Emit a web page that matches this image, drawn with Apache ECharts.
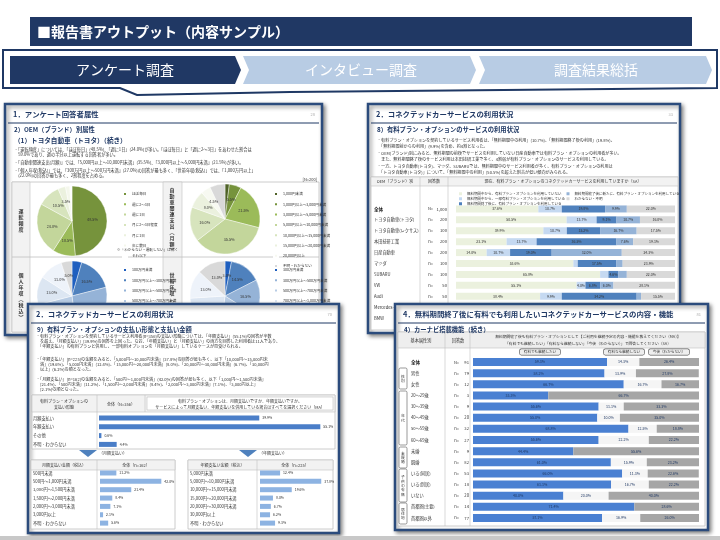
<!DOCTYPE html>
<html>
<head>
<meta charset="utf-8">
<script src="https://cdn.jsdelivr.net/npm/echarts@6/dist/echarts.min.js"></script>
<style>
html, body { margin: 0; padding: 0; background: #fff; }
#main { width: 720px; height: 540px; }
</style>
</head>
<body>
<div id="main"></div>
<script>
const FONT = '"Noto Sans CJK JP", "Noto Sans", sans-serif';

// 1. 回答者属性（円グラフ）
const freqNames = ['ほぼ毎日', '週に2～3日', '週に1日', '月に2～3日程度', '月に1日', '年に数日', 'それ以下'];
const freqValues = [48.5, 10.5, 24.0, 10.5, 3.5, 2.0, 1.0];
const spendNames = ['1,000円未満', '1,000円以上～3,000円未満', '3,000円以上～5,000円未満', '5,000円以上～10,000円未満', '10,000円以上～15,000円未満', '15,000円以上～20,000円未満', '20,000円以上', '不明・わからない'];
const spendValues = [2.0, 5.5, 21.5, 35.5, 16.0, 8.0, 4.5, 7.0];
const incomeNames = ['100万円未満', '100万円以上～300万円未満', '300万円以上～500万円未満', '500万円以上～700万円未満', '700万円以上～1,000万円未満', '1,000万円以上', '答えたくない'];
const incomeValues = [4.5, 16.5, 27.0, 23.0, 13.0, 11.0, 5.0];
const householdNames = ['300万円未満', '300万円以上～500万円未満', '500万円以上～700万円未満', '700万円以上～1,000万円未満', '1,000万円以上～1,500万円未満', '1,500万円以上', '不明・答えたくない'];
const householdValues = [3.0, 14.5, 16.5, 18.0, 22.0, 13.0, 13.0];

// 2. 有料プラン・オプションのサービス利用状況（OEM別）
const oemNames = ['全体', 'トヨタ自動車(トヨタ)', 'トヨタ自動車(レクサス)', '本田技研工業', '日産自動車', 'マツダ', 'SUBARU', 'VW', 'Audi', 'Mercedes-Benz', 'BMW'];
const oemN = ['1,000', '200', '100', '200', '200', '100', '100', '50', '50', '50', '50'];
const oemNoUse = [37.6, 50.5, 39.9, 23.1, 14.0, 53.6, 65.8, 55.1, 38.4, 40.0, 45.0];
const oemPartUse = [10.7, 13.7, 10.7, 13.7, 10.7, 2.0, 3.8, 4.0, 9.9, 10.0, 8.0];
const oemPaidAfter = [19.8, 9.1, 15.2, 36.5, 19.0, 17.5, 4.6, 6.8, 34.2, 20.0, 18.0];
const oemNewPaid = [9.9, 10.7, 16.7, 7.6, 32.0, 3.0, 3.8, 6.0, 2.0, 10.0, 9.0];
const oemUnknown = [22.0, 16.0, 17.5, 19.1, 24.3, 23.9, 22.0, 28.1, 15.5, 20.0, 20.0];

// 9) 支払い形態と支払い金額
const payTypes = ['月額支払い', '年額支払い', 'その他', '不明・わからない'];
const payShares = [39.9, 55.1, 0.6, 4.4];
const monthlyBands = ['500円未満', '500円～1,000円未満', '1,000円～1,500円未満', '1,500円～2,000円未満', '2,000円～3,000円未満', '3,000円以上', '不明・わからない'];
const monthlyShares = [11.2, 42.0, 21.4, 8.4, 7.1, 2.1, 5.6];
const yearlyBands = ['5,000円未満', '5,000円～10,000円未満', '10,000円～15,000円未満', '15,000円～20,000円未満', '20,000円～30,000円未満', '30,000円以上', '不明・わからない'];
const yearlyShares = [12.4, 37.8, 19.6, 8.0, 6.7, 6.2, 9.3];

// 4) カーナビ搭載機能（属性別）
const attrLabels = ['全体', '男性', '女性', '20～29歳', '30～39歳', '40～49歳', '50～59歳', '60～69歳', '未婚', '既婚', 'いる(同居)', 'いる(別居)', 'いない', '首都圏(主要)', '首都圏以外'];
const attrN = [91, 79, 12, 3, 9, 20, 32, 27, 9, 82, 53, 18, 20, 14, 77];
const keepPaid = [59.3, 58.2, 66.7, 33.3, 55.6, 55.0, 68.8, 55.6, 44.4, 61.0, 66.0, 61.1, 40.0, 71.4, 57.1];
const stopPaid = [14.3, 13.9, 16.7, 0, 11.1, 10.0, 12.5, 22.2, 0, 15.9, 11.3, 16.7, 20.0, 0, 16.9];
const undecided = [26.4, 27.8, 16.7, 66.7, 33.3, 35.0, 18.8, 22.2, 55.6, 23.2, 22.6, 22.2, 40.0, 28.6, 26.0];

const greens = ['#76933c', '#9bbb59', '#c3d69b', '#d7e4bd', '#ebf1de', '#f4f7ec', '#ffffff'];
const greens2 = ['#4f6228', '#76933c', '#9bbb59', '#c3d69b', '#d7e4bd', '#ebf1de', '#f7f9f1', '#d9d9d9'];
const blues = ['#1f5fbf', '#4f81bd', '#95b3d7', '#b8cce4', '#dce6f2', '#eef3fa', '#d9d9d9'];

// ---- 図形・テキスト ----
const G = [];
function rect(x, y, w, h, z, style, r) {
  return { type: 'rect', z: z, shape: { x: x, y: y, width: w, height: h, r: r || 0 }, style: style };
}
function line(x1, y1, x2, y2, z, color, lw) {
  return { type: 'line', z: z, shape: { x1: x1, y1: y1, x2: x2, y2: y2 }, style: { stroke: color, lineWidth: lw || 0.6 } };
}
function text(x, y, s, size, z, o) {
  o = o || {};
  const st = {
    text: s, fill: o.color || '#333', fontSize: size, fontFamily: FONT,
    fontWeight: o.bold ? 'bold' : 'normal', align: o.align || 'left', verticalAlign: 'middle'
  };
  if (o.lh) st.lineHeight = o.lh;
  if (o.box) Object.assign(st, o.box);
  return { type: 'text', z: z, x: x, y: y, style: st };
}
function panel(x, y, w, h, z, title, sub, page) {
  G.push(rect(x, y, w, h, z, { fill: '#fff', stroke: '#2b4b7c', lineWidth: 2.5, shadowBlur: 4, shadowOffsetX: 2, shadowOffsetY: 2, shadowColor: 'rgba(0,0,0,0.45)' }));
  G.push(line(x + 3, y + 19, x + w - 3, y + 19, z + 1, '#1f3864', 1));
  G.push(text(x + 8, y + 10, title, 7.4, z + 2, { color: '#1f3864', bold: true }));
  G.push(text(x + w - 7, y + 10, page, 4, z + 2, { color: '#aaa', align: 'right' }));
  G.push(text(x + 9, y + 26, sub, 6.3, z + 2, { color: '#1f3864', bold: true }));
}
function bullets(x, lines, z, size) {
  lines.forEach(function (l) { G.push(text(x, l[0], l[1], size || 4.2, z)); });
}

// 上部見出し
G.push({ type: 'polygon', z: 1, shape: { points: [[3, 50], [717, 50], [717, 88], [290, 92], [137, 95], [120, 88], [3, 88]] }, style: { fill: '#fff', stroke: '#1f3864', lineWidth: 2 } });
G.push(rect(30, 17, 662, 29, 2, { fill: '#203864' }));
G.push(text(37, 32, '■報告書アウトプット（内容サンプル）', 14, 3, { color: '#fff', bold: true }));
G.push({ type: 'polygon', z: 2, shape: { points: [[10, 56], [235, 56], [241, 70], [235, 84], [10, 84]] }, style: { fill: '#203864' } });
G.push({ type: 'polygon', z: 2, shape: { points: [[243, 56], [470, 56], [476, 70], [470, 84], [243, 84], [249, 70]] }, style: { fill: '#b8cce4' } });
G.push({ type: 'polygon', z: 2, shape: { points: [[479, 56], [706, 56], [712, 70], [706, 84], [479, 84], [485, 70]] }, style: { fill: '#b8cce4' } });
G.push(text(125, 70, 'アンケート調査', 14, 3, { color: '#fff', align: 'center' }));
G.push(text(361, 70, 'インタビュー調査', 14, 3, { color: '#fff', align: 'center' }));
G.push(text(596, 70, '調査結果総括', 14, 3, { color: '#fff', align: 'center' }));
G.push(rect(0, 536, 720, 4, 30, { fill: '#c8c8c8' }));

// パネル1：回答者属性
panel(5, 104, 317, 231, 1, '1．アンケート回答者属性', '2）OEM（ブランド）別属性', '28');
G.push(text(14, 140, '（1）トヨタ自動車（トヨタ）（続き）', 6.6, 3, { color: '#1f3864', bold: true }));
bullets(14, [
  [149, '・「運転頻度」については、「ほぼ毎日」(48.5%)、「週に1日」(24.0%)が多い。「ほぼ毎日」と「週に2～3日」をあわせた割合は'],
  [154, '　59.0%であり、週の半分以上運転する回答者が多い。'],
  [162, '・「自動車関連支出(月額)」では、「5,000円以上～10,000円未満」(35.5%)、「3,000円以上～5,000円未満」(21.5%)が多い。'],
  [170, '・「個人年収(税込)」では、「300万円以上～500万円未満」(27.0%)の回答が最も多く、「世帯年収(税込)」では、「1,000万円以上」'],
  [175, '　(22.0%)の回答が最も多く、2割程度を占める。']
], 3, 4.2);
G.push(text(317, 179, '[N=200]', 4, 3, { align: 'right' }));
G.push(rect(12, 182, 307, 150, 2, { fill: '#fff', stroke: '#bfbfbf', lineWidth: 0.8 }));
G.push(rect(12, 182, 18, 150, 2, { fill: '#f2f2f2', stroke: '#bfbfbf', lineWidth: 0.6 }));
G.push(rect(163, 182, 19, 150, 2, { fill: '#f2f2f2', stroke: '#bfbfbf', lineWidth: 0.6 }));
G.push(line(12, 257, 319, 257, 2, '#bfbfbf', 0.8));
G.push(text(21, 220, '運\n転\n頻\n度', 5, 3, { bold: true, align: 'center', lh: 6 }));
G.push(text(172, 220, '自\n動\n車\n関\n連\n支\n出\n︵\n月\n額\n︶', 5, 3, { bold: true, align: 'center', lh: 6 }));
G.push(text(21, 296, '個\n人\n年\n収\n︵\n税\n込\n︶', 5, 3, { bold: true, align: 'center', lh: 6 }));
G.push(text(172, 296, '世\n帯\n年\n収\n︵\n税\n込\n︶', 5, 3, { bold: true, align: 'center', lh: 6 }));
G.push(text(117, 250, '※「わからない・運転しない」は除く', 3.6, 3));

// パネル2：有料プラン利用状況
panel(368, 104, 312, 229, 1, '2．コネクテッドカーサービスの利用状況', '8）有料プラン・オプションのサービスの利用状況', '33');
bullets(377, [
  [140, '・有料プラン・オプションを契約しているサービス利用者は、「無料期間中の利用」(10.7%)、「無料期間終了後の利用」(19.8%)、'],
  [146, '　「無料期間前からの利用」(9.9%)を含め、約4割となった。'],
  [153, '・OEM(ブランド)別にみると、無料期間の前後でサービスを利用していない日産自動車では有料プラン・オプションの利用者が多い。'],
  [159, '　また、無料期間終了後のサービス利用は本田技研工業で多く、4割弱が有料プラン・オプションのサービスを利用している。'],
  [166, '・一方、トヨタ自動車(トヨタ)、マツダ、SUBARUでは、無料期間中のサービス利用者が多く、有料プラン・オプションの利用は'],
  [172, '　「トヨタ自動車(トヨタ)」について、「無料期間中の利用」(50.5%)を超えた割合が低い傾向がみられる。']
], 3, 4.1);
G.push(rect(371, 177, 307, 153, 2, { fill: '#fff', stroke: '#bfbfbf', lineWidth: 0.8 }));
G.push(rect(371, 177, 307, 9, 2, { fill: '#f2f2f2', stroke: '#bfbfbf', lineWidth: 0.6 }));
G.push(line(420, 177, 420, 330, 2, '#bfbfbf', 0.6));
G.push(line(448, 177, 448, 330, 2, '#bfbfbf', 0.6));
G.push(text(395, 181.5, 'OEM（ブランド）別', 4, 3, { align: 'center' }));
G.push(text(434, 181.5, '回答数', 4, 3, { align: 'center' }));
G.push(text(563, 181.5, '現在、有料プラン・オプションのコネクテッドカーサービスを利用していますか（SA）', 4, 3, { align: 'center' }));

// パネル3：支払い形態と金額
panel(28, 304, 311, 229, 20, '2．コネクテッドカーサービスの利用状況', '9）有料プラン・オプションの支払い形態と支払い金額', '70');
bullets(36, [
  [336, '・有料プラン・オプションを契約しているサービス利用者(n=356)の支払い形態については、「年額支払い」(55.1%)の回答が半数'],
  [341, '　を超え、「月額支払い」(39.9%)の回答を上回った。なお、「年額支払い」と「月額支払い」の両方を回答した利用者は11人であり、'],
  [346, '　「年額支払い」の有料プランと併用し、一部有料オプションを「月額支払い」しているケースが見受けられる。'],
  [359, '・「年額支払い」(n=225)の金額をみると、「5,000円～10,000円未満」(37.8%)の回答が最も多く、以下「10,000円～15,000円未'],
  [364, '　満」(19.6%)、「5,000円未満」(12.4%)、「15,000円～20,000円未満」(8.0%)、「20,000円～30,000円未満」(6.7%)、「30,000円'],
  [369, '　以上」(6.2%)の順となった。'],
  [379, '・「月額支払い」(n=162)の金額をみると、「500円～1,000円未満」(42.0%)の回答が最も多く、以下「1,000円～1,500円未満」'],
  [384, '　(21.4%)、「500円未満」(11.2%)、「1,500円～2,000円未満」(8.4%)、「2,000円～3,000円未満」(7.1%)、「3,000円以上」'],
  [389, '　(2.1%)の順となった。']
], 22, 4.1);
G.push(rect(32, 395, 303, 54, 21, { fill: '#fff', stroke: '#bfbfbf', lineWidth: 0.8 }));
G.push(rect(32, 395, 303, 17, 21, { fill: '#f2f2f2', stroke: '#bfbfbf', lineWidth: 0.6 }));
G.push(rect(147, 397, 186, 13, 21, { fill: '#fff', stroke: '#bfbfbf', lineWidth: 0.6 }));
G.push(line(97, 395, 97, 449, 21, '#bfbfbf', 0.6));
G.push(line(145, 395, 145, 412, 21, '#bfbfbf', 0.6));
G.push(text(64, 401, '有料プラン・オプションの', 4, 22, { align: 'center' }));
G.push(text(64, 407, '支払い形態', 4, 22, { align: 'center' }));
G.push(text(121, 404, '全体（N=356）', 4, 22, { align: 'center' }));
G.push(text(240, 401, '有料プラン・オプションは、月額支払いですか、年額支払いですか。', 4, 22, { align: 'center' }));
G.push(text(240, 407, 'サービスによって月額支払い、年額支払いを併用している場合はすべてを選択ください（MA）', 4, 22, { align: 'center' }));
G.push({ type: 'polygon', z: 22, shape: { points: [[79, 450], [97, 450], [88, 457]] }, style: { fill: '#4f81bd' } });
G.push({ type: 'polygon', z: 22, shape: { points: [[239, 450], [257, 450], [248, 457]] }, style: { fill: '#4f81bd' } });
G.push(text(99, 453, '（月額支払い）', 4, 22));
G.push(text(259, 453, '（年額支払い）', 4, 22));
[[31, 97, 175, '月額支払い金額（税込）', '全体（n=162）'], [188, 257, 333, '年額支払い金額（税込）', '全体（n=225）']].forEach(function (t) {
  G.push(rect(t[0], 460, t[2] - t[0], 69, 21, { fill: '#fff', stroke: '#bfbfbf', lineWidth: 0.8 }));
  G.push(rect(t[0], 460, t[2] - t[0], 10, 21, { fill: '#f2f2f2', stroke: '#bfbfbf', lineWidth: 0.6 }));
  G.push(line(t[1], 460, t[1], 529, 21, '#bfbfbf', 0.6));
  G.push(text((t[0] + t[1]) / 2, 465, t[3], 4, 22, { align: 'center' }));
  G.push(text((t[1] + t[2]) / 2, 465, t[4], 4, 22, { align: 'center' }));
});

// パネル4：カーナビ搭載機能
panel(395, 304, 313, 226, 20, '4．無料期間終了後に有料でも利用したいコネクテッドカーサービスの内容・機能', '4）カーナビ搭載機能（続き）', '81');
G.push(rect(398, 332, 307, 194, 21, { fill: '#fff', stroke: '#bfbfbf', lineWidth: 0.8 }));
G.push(rect(398, 332, 307, 16, 21, { fill: '#eeeeee', stroke: '#bfbfbf', lineWidth: 0.6 }));
G.push(line(445, 332, 445, 526, 21, '#bfbfbf', 0.6));
G.push(line(470, 332, 470, 526, 21, '#bfbfbf', 0.6));
G.push(text(421, 340, '基本属性別', 4.2, 22, { align: 'center' }));
G.push(text(458, 340, '回答数', 4.2, 22, { align: 'center' }));
G.push(text(588, 337, '無料期間終了後も有料プラン・オプションとして【ご利用を継続予定の内容・機能を教えてください（MA）】', 3.8, 22, { align: 'center' }));
G.push(text(588, 344, '「有料でも継続したい」「有料なら継続しない」「今後（わからない）」で回答してください（SA）', 3.8, 22, { align: 'center' }));
const btn = { backgroundColor: '#eeeeee', borderColor: '#555', borderWidth: 0.6, borderRadius: 1.5, padding: [1, 4] };
G.push(text(540, 352, '有料でも継続したい', 3.6, 22, { align: 'center', box: btn }));
G.push(text(624, 352, '有料なら継続しない', 3.6, 22, { align: 'center', box: btn }));
G.push(text(669, 352, '今後（わからない）', 3.6, 22, { align: 'center', box: btn }));
[[368, 21, '性\n別'], [391, 54, '年\n代'], [447, 21, '未\n既\n婚'], [469, 33, '子\n供\nの\n有\n無'], [503, 21, '居\n住\n地']].forEach(function (b) {
  G.push(rect(399, b[0], 8, b[1], 22, { fill: 'none', stroke: '#555', lineWidth: 0.6 }, 1.5));
  G.push(text(403, b[0] + b[1] / 2, b[2], 3.8, 22, { align: 'center', lh: 4.4 }));
});

// ---- 系列 ----
function pie(names, values, colors, center) {
  return {
    type: 'pie', z: 3, center: center, radius: 35, startAngle: 90,
    label: { show: true, position: 'inside', fontSize: 3.8, color: '#333', formatter: function (p) { return p.value >= 3 ? p.value.toFixed(1) + '%' : ''; } },
    labelLine: { show: false },
    itemStyle: { borderColor: '#fff', borderWidth: 0.4 },
    emphasis: { disabled: true },
    data: names.map(function (n, i) { return { name: n, value: values[i], itemStyle: { color: colors[i] } }; })
  };
}
function pieLegend(names, left, top) {
  return {
    data: names, left: left, top: top, orient: 'vertical', icon: 'rect', itemWidth: 4, itemHeight: 4,
    itemGap: 4.3, selectedMode: false, z: 4, textStyle: { fontSize: 3.6, color: '#333', fontFamily: FONT }
  };
}
const pctLabel = function (min) {
  return function (p) { return p.value >= min ? p.value.toFixed(1) + '%' : ''; };
};

const oemParts = [
  ['無料期間中から、有料プラン・オプションを利用していない', oemNoUse, '#ebf1de'],
  ['無料期間中から、一部有料プラン・オプションを利用している', oemPartUse, '#c5d9f1'],
  ['無料期間終了後に、有料プラン・オプションを利用している', oemPaidAfter, '#4f81bd'],
  ['無料期間終了後に新たに、有料プラン・オプションを利用している', oemNewPaid, '#95b3d7'],
  ['わからない・不明', oemUnknown, '#d9d9d9']
];
const oemSeries = oemParts.map(function (p) {
  return {
    type: 'bar', name: p[0], stack: 'oem', xAxisIndex: 0, yAxisIndex: 0, z: 3, barWidth: 7,
    data: p[1], itemStyle: { color: p[2] }, emphasis: { disabled: true },
    label: { show: true, fontSize: 3.5, color: '#333', formatter: pctLabel(4) }
  };
});

const naviParts = [
  ['有料でも継続したい', keepPaid, '#4a80d2'],
  ['有料なら継続しない', stopPaid, '#f5f5f5'],
  ['今後（わからない）', undecided, '#a6a6a6']
];
const naviSeries = naviParts.map(function (p) {
  return {
    type: 'bar', name: p[0], stack: 'navi', xAxisIndex: 4, yAxisIndex: 5, z: 22, barWidth: 8,
    data: p[1], itemStyle: { color: p[2] }, emphasis: { disabled: true },
    label: { show: true, fontSize: 3.6, color: '#1f3864', formatter: pctLabel(5) }
  };
});

function hBar(data, xi, yi, color, bw) {
  return {
    type: 'bar', xAxisIndex: xi, yAxisIndex: yi, z: 22, barWidth: bw, data: data,
    itemStyle: { color: color }, emphasis: { disabled: true },
    label: { show: true, position: 'right', distance: 3, fontSize: 3.5, color: '#333', formatter: pctLabel(0) }
  };
}

function valAxis(gi, max, z) {
  return { type: 'value', gridIndex: gi, min: 0, max: max, show: false, z: z };
}
function catAxis(gi, data, margin, z, fmt) {
  return {
    type: 'category', gridIndex: gi, data: data, inverse: true, z: z,
    axisLine: { show: false }, axisTick: { show: false }, splitLine: { show: false },
    axisLabel: {
      interval: 0, margin: margin, align: 'left', fontSize: 4.2, color: '#333', fontFamily: FONT,
      formatter: fmt, rich: { b: { fontSize: 4.6, fontWeight: 'bold', color: '#222', fontFamily: FONT } }
    }
  };
}
function nAxis(gi, data, margin, z, wa, wv) {
  return {
    type: 'category', gridIndex: gi, data: data, inverse: true, position: 'left', z: z,
    axisLine: { show: false }, axisTick: { show: false }, splitLine: { show: false },
    axisLabel: {
      interval: 0, margin: margin, align: 'right', fontSize: 4.2, color: '#333',
      formatter: function (v, i) { return '{a|' + (i === 0 ? 'N=' : 'n=') + '}{v|' + v + '}'; },
      rich: {
        a: { width: wa, fontSize: 4, color: '#333', fontFamily: FONT },
        v: { width: wv, align: 'right', fontSize: 4.2, color: '#333', fontFamily: FONT }
      }
    }
  };
}
const boldFirst = function (v, i) { return i === 0 ? '{b|' + v + '}' : v; };
const gridBase = { containLabel: false, outerBoundsMode: 'none', show: false };

const option = {
  animation: false,
  backgroundColor: '#fff',
  textStyle: { fontFamily: FONT },
  graphic: { elements: G },
  legend: [
    pieLegend(freqNames, 117, 186),
    pieLegend(spendNames, 268, 186),
    pieLegend(incomeNames, 117, 262),
    pieLegend(householdNames, 268, 262),
    {
      data: oemParts.map(function (p) { return p[0]; }), left: 454, top: 187, orient: 'vertical', height: 16,
      icon: 'rect', itemWidth: 3, itemHeight: 3, itemGap: 1.5, selectedMode: false, z: 4,
      textStyle: { fontSize: 3.5, color: '#333', fontFamily: FONT }
    }
  ],
  grid: [
    Object.assign({ left: 456, top: 203.5, width: 219, height: 120 }, gridBase),
    Object.assign({ left: 99, top: 413.6, width: 241, height: 35.2 }, gridBase),
    Object.assign({ left: 100, top: 468.8, width: 73, height: 58.5 }, gridBase),
    Object.assign({ left: 260, top: 468.8, width: 81, height: 58.5 }, gridBase),
    Object.assign({ left: 473, top: 356.5, width: 226, height: 167 }, gridBase)
  ],
  xAxis: [valAxis(0, 100, 4), valAxis(1, 60, 23), valAxis(2, 50, 23), valAxis(3, 50, 23), valAxis(4, 100, 23)],
  yAxis: [
    catAxis(0, oemNames, 82, 4, boldFirst),
    nAxis(0, oemN, 9, 4, 10, 14),
    catAxis(1, payTypes, 66, 23),
    catAxis(2, monthlyBands, 67, 23),
    catAxis(3, yearlyBands, 70, 23),
    catAxis(4, attrLabels, 62, 23, boldFirst),
    nAxis(4, attrN, 4, 23, 12, 10)
  ],
  series: [
    pie(freqNames, freqValues, greens, [72, 221]),
    pie(spendNames, spendValues, greens2, [225, 219]),
    pie(incomeNames, incomeValues, blues, [72, 296]),
    pie(householdNames, householdValues, blues, [225, 296])
  ].concat(oemSeries, [
    hBar(payShares, 1, 2, '#4a7ec8', 5),
    hBar(monthlyShares, 2, 3, '#8db3e2', 5),
    hBar(yearlyShares, 3, 4, '#8db3e2', 5)
  ], naviSeries)
};

const chart = echarts.init(document.getElementById('main'));
chart.setOption(option);
</script>
</body>
</html>
